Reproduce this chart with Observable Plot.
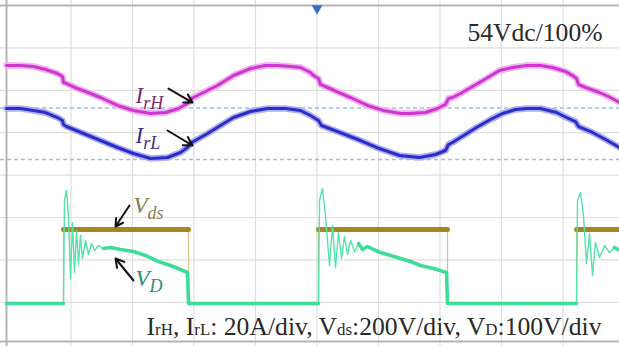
<!DOCTYPE html>
<html><head><meta charset="utf-8">
<script src="https://cdn.jsdelivr.net/npm/d3@7"></script>
<script src="https://cdn.jsdelivr.net/npm/@observablehq/plot@0.6"></script>
<style>
html,body{margin:0;padding:0;background:#fff;overflow:hidden;}
#chart{width:619px;height:346px;}
</style></head><body><div id="chart"></div>
<script>
// Oscilloscope screen, units = divisions (x: 10 div of time, y: -4..4 div)
const gridX = [1, 2, 3, 4, 5, 6, 7, 8, 9];
const gridY = [-3, -2, -1, 0, 1, 2, 3];
const borderLeft = [-0.049];
const borderTopBottom = [4, -3.925];
const refLevels = [1.583, 0.368];      // IrH / IrL zero markers
const trigX = [5];
const trigY = [3.93];

// IrH (magenta)
const ihT = [-0.049,0.179,0.390,0.585,0.780,0.862,0.878,0.927,1.106,1.317,1.480,1.756,2.016,2.293,2.537,2.748,2.894,2.943,2.992,3.187,3.382,3.642,3.919,4.163,4.358,4.569,4.732,4.894,4.943,5.024,5.057,5.171,5.545,5.821,6.081,6.358,6.520,6.764,6.959,7.089,7.138,7.203,7.333,7.642,7.967,8.179,8.407,8.634,8.829,9.041,9.154,9.220,9.252,9.366,9.593,9.772,9.919];
const ihV = [2.585,2.585,2.561,2.491,2.396,2.325,2.184,2.160,2.042,1.925,1.830,1.642,1.524,1.453,1.476,1.571,1.689,1.783,1.830,1.972,2.113,2.349,2.514,2.585,2.585,2.561,2.538,2.420,2.349,2.278,2.137,2.066,1.830,1.642,1.524,1.453,1.453,1.476,1.571,1.665,1.807,1.830,1.925,2.184,2.467,2.538,2.585,2.585,2.538,2.443,2.349,2.278,2.137,2.066,1.948,1.830,1.712];

// IrL (blue)
const ilT = [-0.049,0.179,0.390,0.585,0.780,0.862,0.878,0.927,1.203,1.480,1.756,2.016,2.293,2.569,2.780,2.894,2.943,2.992,3.220,3.431,3.642,3.919,4.195,4.488,4.732,4.894,5.024,5.073,5.415,5.707,5.967,6.341,6.667,6.927,7.089,7.138,7.203,7.593,7.821,8.016,8.228,8.407,8.634,8.894,9.089,9.203,9.252,9.480,9.691,9.919];
const ilV = [1.571,1.571,1.524,1.476,1.358,1.288,1.193,1.146,0.981,0.816,0.651,0.509,0.392,0.415,0.533,0.651,0.745,0.792,0.981,1.170,1.358,1.500,1.571,1.571,1.524,1.406,1.288,1.170,0.981,0.816,0.651,0.462,0.415,0.486,0.580,0.722,0.769,1.123,1.311,1.453,1.547,1.571,1.571,1.476,1.335,1.264,1.146,1.005,0.840,0.651];

// Vds (brown)
const vdsT = [-0.049,0.878,0.878,2.911,2.911,5.024,5.024,7.122,7.122,9.220,9.220,9.919];
const vdsV = [-3.028,-3.028,-1.283,-1.283,-3.028,-3.028,-1.283,-1.283,-3.028,-3.028,-1.283,-1.283];
const vdsRise = [0.878, 5.024, 9.220];

// VD (green)
const vdT = [-0.049,0.878,0.894,0.927,0.959,0.992,1.024,1.057,1.089,1.122,1.154,1.187,1.236,1.285,1.333,1.382,1.447,1.528,1.642,1.805,2.016,2.211,2.423,2.618,2.780,2.894,2.911,5.024,5.041,5.089,5.138,5.203,5.252,5.301,5.350,5.398,5.447,5.496,5.545,5.610,5.675,5.740,5.821,5.919,6.033,6.195,6.358,6.520,6.683,6.894,7.106,7.122,9.220,9.236,9.285,9.333,9.382,9.431,9.480,9.528,9.593,9.675,9.756,9.837,9.919];
const vdV = [-3.028,-3.028,-0.599,-0.363,-0.953,-2.439,-1.118,-2.297,-1.307,-2.108,-1.425,-1.967,-1.542,-1.873,-1.613,-1.778,-1.660,-1.731,-1.708,-1.755,-1.802,-1.896,-2.038,-2.132,-2.226,-2.297,-3.028,-3.028,-0.599,-0.316,-0.953,-2.132,-1.189,-2.179,-1.354,-1.967,-1.448,-1.873,-1.542,-1.802,-1.613,-1.755,-1.684,-1.755,-1.825,-1.896,-1.967,-2.038,-2.132,-2.203,-2.297,-3.028,-3.028,-0.599,-0.410,-0.953,-2.085,-1.377,-2.368,-1.590,-1.943,-1.660,-1.825,-1.708,-1.778];

// Trace labels and arrows
const labelText = ["I|rH", "I|rL", "V|ds", "V|D"];
const labelX = [2.049, 2.049, 2.016, 2.049];
const labelY = [1.877, 0.922, -0.729, -2.439];
const labelColor = ["#7d2a6e", "#3c2f86", "#8a7b55", "#2a8f72"];
const arrowX1 = [2.585, 2.569, 1.951, 2.016];
const arrowY1 = [2.042, 1.052, -0.717, -2.486];
const arrowX2 = [2.976, 2.976, 1.724, 1.724];
const arrowY2 = [1.712, 0.698, -1.212, -1.967];

// Notes
const noteText = ["54Vdc/100%", "I{rH}, I{rL}: 20A/div, V{ds}:200V/div, V{D}:100V/div"];
const noteX = [9.642, 9.626];
const noteY = [3.363, -3.571];

const toRows = (t, v) => t.map((x, i) => ({t: x, v: v[i]}));
const ih = toRows(ihT, ihV);
const il = toRows(ilT, ilV);
const vds = toRows(vdsT, vdsV);
const vd = toRows(vdT, vdV);
const ringing = (t) => vdsRise.some(r => t > r && t <= r + 0.6);

const plot = Plot.plot({
  width: 619, height: 346, margin: 0,
  style: {background: "#fff", overflow: "hidden"},
  x: {domain: [0, 10], range: [9, 624], axis: null},
  y: {domain: [-4, 4], range: [344.2, 5], axis: null},
  color: {type: "identity"},
  marks: [
    Plot.ruleX(gridX, {stroke: "#dedede", strokeWidth: 1.2}),
    Plot.ruleY(gridY, {stroke: "#dedede", strokeWidth: 1.2}),
    Plot.ruleX(borderLeft, {stroke: "#b4b4b4", strokeWidth: 2}),
    Plot.ruleY(borderTopBottom, {stroke: "#b4b4b4", strokeWidth: 2}),
    Plot.ruleY(refLevels, {stroke: "#9dbcec", strokeWidth: 1.5, strokeDasharray: "4,3"}),
    Plot.dot(trigX, {x: d => d, y: (d, i) => trigY[i], symbol: "triangle", rotate: 180, r: 4, fill: "#3d6fc8", stroke: "none"}),
    Plot.line(vds, {x: "t", y: "v", stroke: "#dcc28a", strokeWidth: 1.3}),
    Plot.line(vds, {x: "t", y: d => d.v > -2 ? d.v : NaN, stroke: "#a7851f", strokeWidth: 5}),
    Plot.line(vd, {x: "t", y: "v", stroke: "#55e3a8", strokeWidth: 1.4}),
    Plot.line(vd, {x: "t", y: d => ringing(d.t) ? NaN : d.v, stroke: "#3ddc98", strokeWidth: 3.6}),
    Plot.line(ih, {x: "t", y: "v", stroke: "#f0b4f0", strokeWidth: 6.5}),
    Plot.line(ih, {x: "t", y: "v", stroke: "#cf35cf", strokeWidth: 3}),
    Plot.line(il, {x: "t", y: "v", stroke: "#b0b0f0", strokeWidth: 6.5}),
    Plot.line(il, {x: "t", y: "v", stroke: "#2c2cc8", strokeWidth: 3}),
    Plot.arrow(arrowX1, {x1: (d, i) => arrowX1[i], y1: (d, i) => arrowY1[i], x2: (d, i) => arrowX2[i], y2: (d, i) => arrowY2[i], stroke: "#111", strokeWidth: 2, headLength: 12}),
    Plot.text(labelText, {x: (d, i) => labelX[i], y: (d, i) => labelY[i], fill: (d, i) => labelColor[i], textAnchor: "start", fontSize: 23, fontStyle: "italic", fontFamily: "Liberation Serif"}),
    Plot.text(noteText, {x: (d, i) => noteX[i], y: (d, i) => noteY[i], fill: "#2a2a2a", textAnchor: "end", fontSize: 25, fontFamily: "Liberation Serif"})
  ]
});

d3.select(plot).selectAll("text").each(function () {
  const el = this;
  const s = el.textContent;
  const sel = d3.select(el);
  if (s.includes("|")) {
    const [main, sub] = s.split("|");
    el.textContent = "";
    sel.append("tspan").text(main);
    sel.append("tspan").attr("font-size", 18).attr("dy", 6).text(sub);
  } else if (s.includes("{")) {
    el.textContent = "";
    s.split(/(\{[^}]*\})/).filter(p => p).forEach(p => {
      if (p.startsWith("{")) sel.append("tspan").attr("font-size", "0.66em").text(p.slice(1, -1));
      else sel.append("tspan").text(p);
    });
    sel.attr("textLength", 455).attr("lengthAdjust", "spacingAndGlyphs");
  } else if (s.startsWith("54")) {
    sel.attr("textLength", 135).attr("lengthAdjust", "spacingAndGlyphs");
  }
});

document.getElementById("chart").appendChild(plot);
</script>
</body></html>
